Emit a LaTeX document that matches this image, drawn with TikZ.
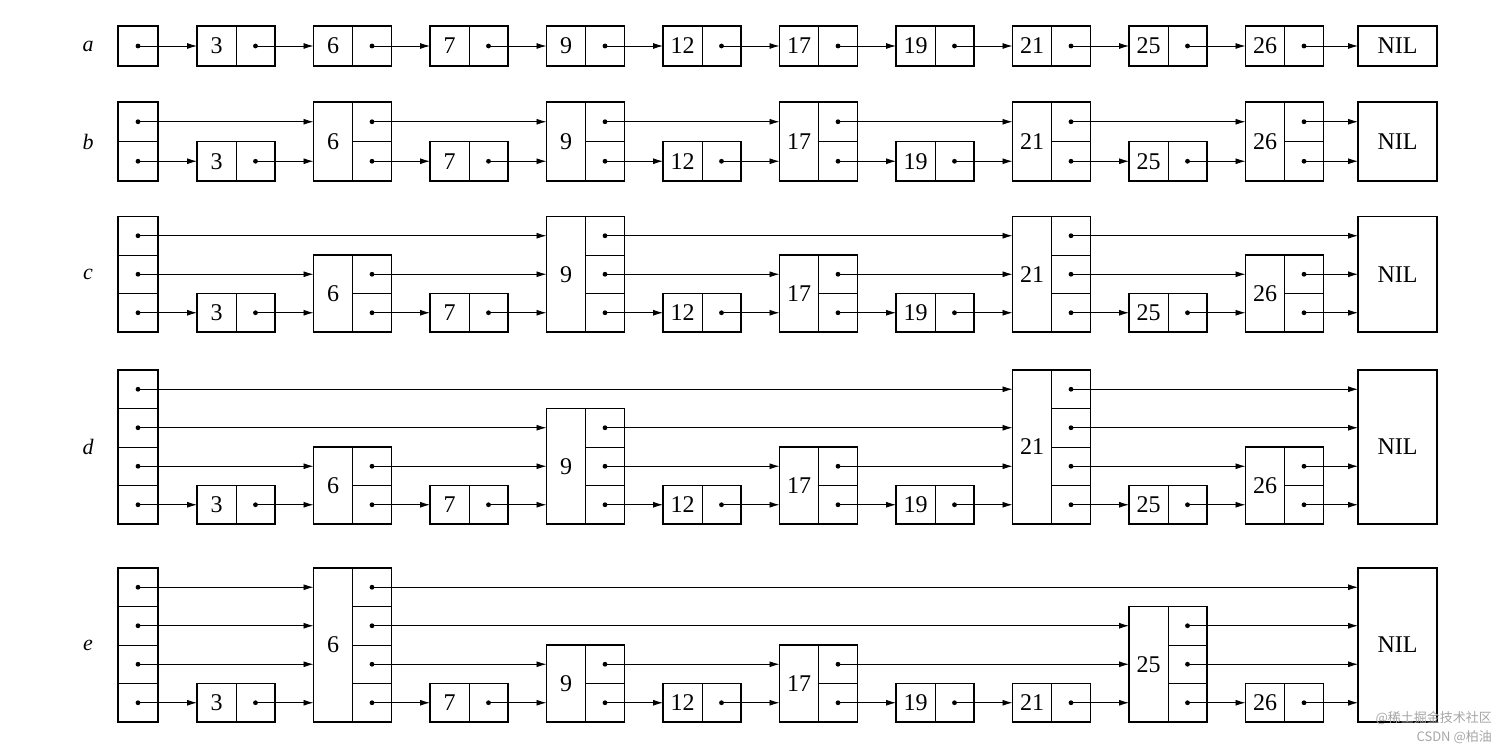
\documentclass[tikz,border=0pt]{standalone}
\usepackage{fontspec}
\setmainfont{Liberation Serif}
\newfontfamily\cjk{Noto Sans CJK SC}
\usetikzlibrary{arrows.meta}
\tikzset{
  ptr/.style={-{Latex[length=10pt,width=6pt]},line width=0.9pt},
  box/.style={draw,line width=1.8pt},
  div/.style={line width=0.7pt},
  dot/.style={fill,circle,inner sep=0pt,minimum size=4.8pt},
  key/.style={font=\fontsize{24}{24}\selectfont,inner sep=0pt},
  lab/.style={font=\fontsize{22}{22}\selectfont\itshape,inner sep=0pt}
}
\newcommand\skiprow[5]{%
  \foreach \k in {0,...,11}{%
    \pgfmathtruncatemacro\n{{#4}[\k]}%
    \pgfmathtruncatemacro\key{{0,3,6,7,9,12,17,19,21,25,26,0}[\k]}%
    \pgfmathsetmacro\L{\k==0 ? 118 : (\k==11 ? 1358 : 197+(\k-1)*116.5)}%
    \pgfmathsetmacro\W{\k==0 ? 40 : (\k==11 ? 79 : 78)}%
    \pgfmathsetmacro\T{#2-\n*#3}%
    \pgfmathsetmacro\D{\k==0 ? \L+20 : \L+58.5}%
    \pgfmathsetmacro\P{\k==0 ? \L : \L+39}%
    \draw[box] (\L,\T) rectangle (\L+\W,#2);
    \ifnum\k=11
      \node[key] (#1-nil) at (\L+39.5,{(\T+#2)/2}) {NIL};
    \else
      \ifnum\k>0
        \draw[div] (\P,\T) -- (\P,#2);
        \node[key] (#1-key-\k) at (\L+19.5,{(\T+#2)/2}) {\key};
      \fi
      \ifnum\n>1
        \foreach \l in {1,...,\numexpr\n-1\relax}{\draw[div] (\P,#2-\l*#3) -- (\L+\W,#2-\l*#3);}
      \fi
      \foreach \l in {1,...,\n}{\node[dot] (#1-\k-\l-d) at (\D,#2-\l*#3+0.5*#3) {};}
    \fi
    \foreach \l in {1,...,\n}{\coordinate (#1-\k-\l-in) at (\L,#2-\l*#3+0.5*#3);}
  }
  \pgfmathtruncatemacro\H{{#4}[0]}%
  \foreach \l in {1,...,\H}{%
    \xdef\last{0}%
    \foreach \k in {1,...,11}{%
      \pgfmathtruncatemacro\n{{#4}[\k]}%
      \ifnum\n<\l\else
        \draw[ptr] (#1-\last-\l-d.center) -- (#1-\k-\l-in);
        \xdef\last{\k}%
      \fi
    }
  }
  \node[lab] (#1-lab) at (88,{#2-\H*#3/2}) {#5};
}
\begin{document}
\begin{tikzpicture}[x=1pt,y=-1pt]
\useasboundingbox (0,0) rectangle (1512,749);
\skiprow{a}{66}{40}{1,1,1,1,1,1,1,1,1,1,1,1}{a}
\skiprow{b}{181}{39.5}{2,1,2,1,2,1,2,1,2,1,2,2}{b}
\skiprow{c}{332}{38.5}{3,1,2,1,3,1,2,1,3,1,2,3}{c}
\skiprow{d}{524}{38.5}{4,1,2,1,3,1,2,1,4,1,2,4}{d}
\skiprow{e}{722}{38.5}{4,1,4,1,2,1,2,1,1,3,1,4}{e}
\node[font=\cjk\fontsize{13}{13}\selectfont,text=black!35,anchor=east,inner sep=0pt] (wm1) at (1492,718) {@稀土掘金技术社区};
\node[font=\cjk\fontsize{13}{13}\selectfont,text=black!35,anchor=east,inner sep=0pt] (wm2) at (1492,737) {CSDN @柏油};
\end{tikzpicture}
\end{document}
